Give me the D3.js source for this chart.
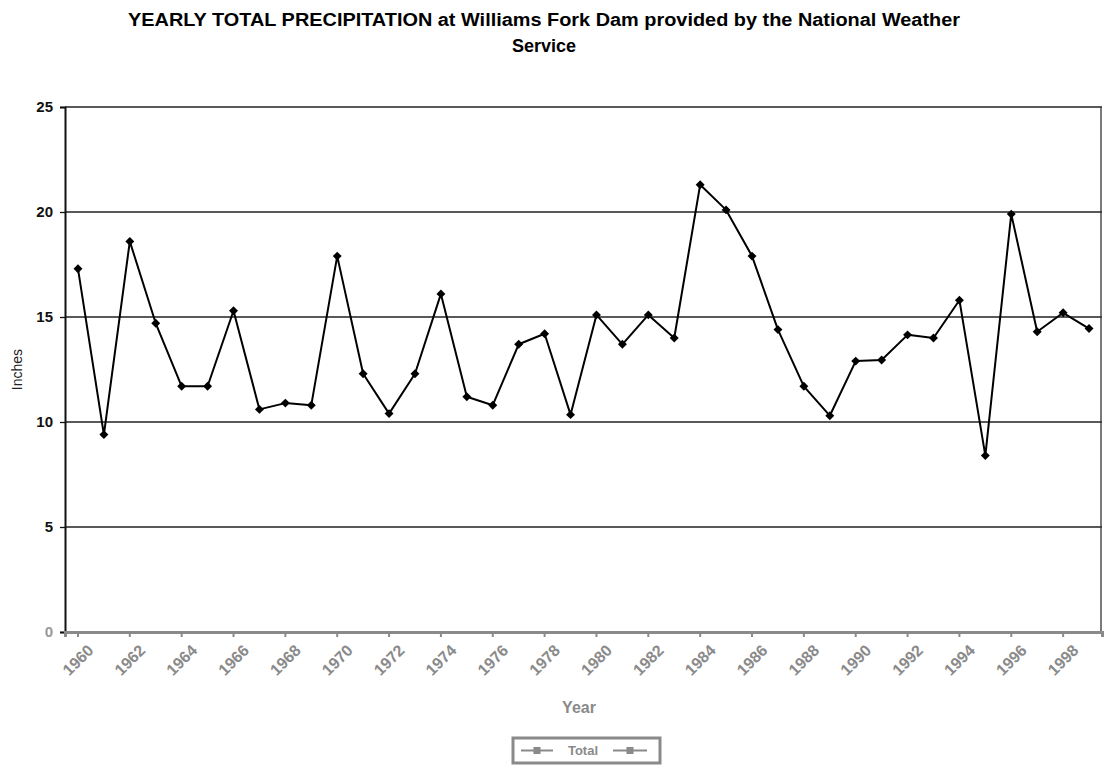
<!DOCTYPE html>
<html>
<head>
<meta charset="utf-8">
<script src="https://cdn.jsdelivr.net/npm/d3@7"></script>
<style>
  body { margin: 0; background: #fff; }
  svg { display: block; font-family: "Liberation Sans", Arial, sans-serif; }
</style>
</head>
<body>
<div id="chart"></div>
<script>
// 연도 (매년 1점, 라벨은 2년마다)
const years = d3.range(1960, 2000).map(String);

// 연 총 강수량 (인치) - 그림에서 읽은 값
const totals = [
  17.3, 9.4, 18.6, 14.7, 11.7, 11.7, 15.3, 10.6, 10.9, 10.8,
  17.9, 12.3, 10.4, 12.3, 16.1, 11.2, 10.8, 13.7, 14.2, 10.35,
  15.1, 13.7, 15.1, 14.0, 21.3, 20.1, 17.9, 14.4, 11.7, 10.3,
  12.9, 12.95, 14.15, 14.0, 15.8, 8.4, 19.9, 14.3, 15.2, 14.45
];

const yTicks = [0, 5, 10, 15, 20, 25];
const seriesName = 'Total';

const width = 1104, height = 766;
const margin = { top: 107, right: 2, bottom: 134, left: 65 };

const svg = d3.select('#chart').append('svg')
  .attr('width', width)
  .attr('height', height);

const x = d3.scaleBand()
  .domain(years)
  .range([margin.left, width - margin.right]);

const y = d3.scaleLinear()
  .domain([0, 25])
  .range([height - margin.bottom, margin.top]);

// 제목 (스캔 원본 폭에 맞춤)
svg.append('text')
  .attr('x', 128).attr('y', 26)
  .attr('font-weight', 'bold')
  .attr('font-size', '18px')
  .attr('textLength', 832)
  .attr('lengthAdjust', 'spacingAndGlyphs')
  .text('YEARLY TOTAL PRECIPITATION at Williams Fork Dam provided by the National Weather');
svg.append('text')
  .attr('x', 544).attr('y', 52)
  .attr('text-anchor', 'middle')
  .attr('font-weight', 'bold')
  .attr('font-size', '18px')
  .text('Service');

// 가로 격자선
svg.append('g')
  .selectAll('line')
  .data(yTicks.filter(d => d > 0))
  .join('line')
  .attr('x1', margin.left).attr('x2', width - margin.right)
  .attr('y1', d => y(d)).attr('y2', d => y(d))
  .attr('stroke', '#222')
  .attr('stroke-width', 1.3);

// 오른쪽 테두리
svg.append('line')
  .attr('x1', width - 3).attr('x2', width - 3)
  .attr('y1', y(25)).attr('y2', y(0))
  .attr('stroke', '#333').attr('stroke-width', 1.3);

// y축
const yAxis = svg.append('g')
  .attr('transform', `translate(${margin.left},0)`)
  .call(d3.axisLeft(y).tickValues(yTicks).tickSize(5).tickPadding(7));
yAxis.select('.domain').attr('stroke', '#111').attr('stroke-width', 2);
yAxis.selectAll('.tick line').attr('stroke', '#111').attr('stroke-width', 1.3);
yAxis.selectAll('text')
  .attr('font-size', '15px')
  .attr('font-weight', 'bold')
  .attr('fill', '#111')
  .attr('font-family', '"Liberation Sans", Arial, sans-serif');
yAxis.selectAll('.tick')
  .filter(d => d === 0)
  .select('text').attr('fill', '#999');

// x축 (스캔 느낌의 회색 축선)
const labelYears = years.filter((d, i) => i % 2 === 0);
const xAxis = svg.append('g')
  .attr('transform', `translate(0,${y(0)})`)
  .call(d3.axisBottom(x).tickValues(labelYears).tickSize(5).tickPadding(6));
xAxis.select('.domain').attr('stroke', '#8a8a8a').attr('stroke-width', 3);
xAxis.selectAll('.tick line').attr('stroke', '#8a8a8a').attr('stroke-width', 2);
xAxis.selectAll('text')
  .attr('font-size', '16px')
  .attr('font-weight', 'bold')
  .attr('fill', '#8a8a8a')
  .attr('font-family', '"Liberation Sans", Arial, sans-serif')
  .attr('text-anchor', 'end')
  .attr('dx', '-2px')
  .attr('dy', '0.9em')
  .attr('transform', 'rotate(-45)');

// 축 제목
svg.append('text')
  .attr('transform', `translate(22,${(y(0) + y(25)) / 2}) rotate(-90)`)
  .attr('text-anchor', 'middle')
  .attr('font-size', '14px')
  .attr('fill', '#222')
  .text('Inches');

svg.append('text')
  .attr('x', 579).attr('y', 713)
  .attr('text-anchor', 'middle')
  .attr('font-size', '16px')
  .attr('font-weight', 'bold')
  .attr('fill', '#8a8a8a')
  .text('Year');

// 선
const line = d3.line()
  .x((d, i) => x(years[i]) + x.bandwidth() / 2)
  .y(d => y(d));

svg.append('path')
  .datum(totals)
  .attr('fill', 'none')
  .attr('stroke', '#000')
  .attr('stroke-width', 2)
  .attr('stroke-linejoin', 'round')
  .attr('d', line);

// 마름모 마커 (정사각형 45도 회전)
const diamond = d3.symbol().type(d3.symbolSquare).size(40);
svg.append('g')
  .selectAll('path')
  .data(totals)
  .join('path')
  .attr('transform', (d, i) => `translate(${x(years[i]) + x.bandwidth() / 2},${y(d)}) rotate(45)`)
  .attr('d', diamond)
  .attr('fill', '#000');

// 범례
const legend = svg.append('g').attr('transform', 'translate(513,738)');
legend.append('rect')
  .attr('width', 147).attr('height', 25)
  .attr('fill', '#fff')
  .attr('stroke', '#8a8a8a').attr('stroke-width', 3);
[[8, 40], [100, 134]].forEach(([a, b]) => {
  legend.append('line')
    .attr('x1', a).attr('x2', b)
    .attr('y1', 12.5).attr('y2', 12.5)
    .attr('stroke', '#8a8a8a').attr('stroke-width', 2);
  legend.append('path')
    .attr('transform', `translate(${(a + b) / 2},12.5)`)
    .attr('d', d3.symbol().type(d3.symbolSquare).size(50))
    .attr('fill', '#8a8a8a');
});
legend.append('text')
  .attr('x', 70).attr('y', 17)
  .attr('text-anchor', 'middle')
  .attr('font-size', '13px')
  .attr('font-weight', 'bold')
  .attr('fill', '#8a8a8a')
  .text(seriesName);
</script>
</body>
</html>
